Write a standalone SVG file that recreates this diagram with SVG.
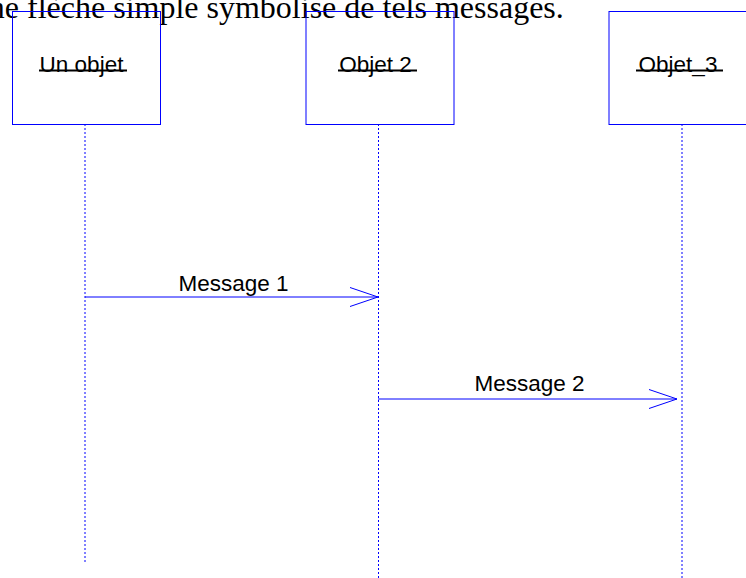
<svg xmlns="http://www.w3.org/2000/svg" width="746" height="578" viewBox="0 0 746 578">
<style>
.box{fill:none;stroke:#0000ff;stroke-width:1}
.life{stroke:#0000ff;stroke-width:1;stroke-dasharray:2 2;fill:none}
.msg{stroke:#0000ff;stroke-width:1;fill:none}
.lbl{font-family:"Liberation Sans",Arial,sans-serif;font-size:22.5px;fill:#000}
.strike{stroke:#000;stroke-width:2}
.top{font-family:"Liberation Serif","Times New Roman",serif;font-size:32px;fill:#000}
</style>
<defs>
<marker id="open" markerUnits="userSpaceOnUse" markerWidth="40" markerHeight="24" viewBox="-30 -12 32 24" refX="0" refY="0" orient="auto">
<path d="M-28,-9.5 L0,0 L-28,9.5" fill="none" stroke="#0000ff" stroke-width="1"/>
</marker>
</defs>
<rect width="746" height="578" fill="#fff"/>
<text class="top" x="-34.3" y="18">Une flèche simple symbolise de tels messages.</text>
<g id="lifelines">
<line class="life" x1="85" y1="124" x2="85" y2="563"/>
<line class="life" x1="378.5" y1="124" x2="378.5" y2="578"/>
<line class="life" x1="682" y1="124" x2="682" y2="578"/>
</g>
<g id="obj1">
<rect class="box" x="12.5" y="11.5" width="148" height="113"/>
<text class="lbl" x="81.5" y="72" text-anchor="middle">Un objet</text>
<line class="strike" x1="39" y1="70.5" x2="127" y2="70.5"/>
</g>
<g id="obj2">
<rect class="box" x="306" y="11.5" width="148" height="113"/>
<text class="lbl" x="375.5" y="72" text-anchor="middle">Objet 2</text>
<line class="strike" x1="338" y1="70.5" x2="417" y2="70.5"/>
</g>
<g id="obj3">
<rect class="box" x="609" y="11.5" width="148" height="113"/>
<text class="lbl" x="678" y="72" text-anchor="middle">Objet_3</text>
<line class="strike" x1="636" y1="70.5" x2="723" y2="70.5"/>
</g>
<g id="connectors">
<line class="msg" x1="85" y1="297" x2="378" y2="297" marker-end="url(#open)"/>
<text class="lbl" x="233.5" y="290.5" text-anchor="middle">Message 1</text>
<line class="msg" x1="378" y1="399" x2="677" y2="399" marker-end="url(#open)"/>
<text class="lbl" x="529.5" y="391" text-anchor="middle">Message 2</text>
</g>
</svg>
